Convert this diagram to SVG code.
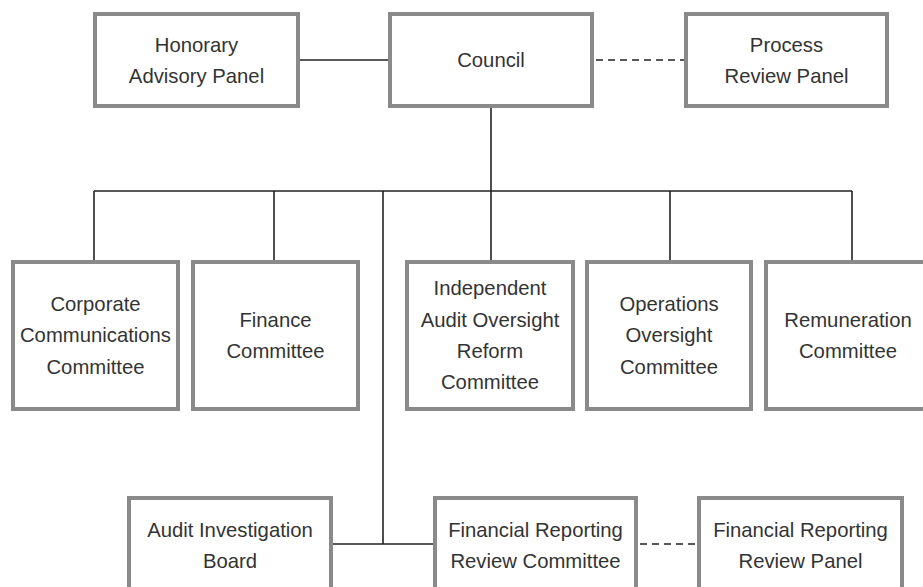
<svg xmlns="http://www.w3.org/2000/svg" width="923" height="587" viewBox="0 0 923 587">
<style>
.box{fill:#fff;stroke:#8a8a8b;stroke-width:4}
.t{font-family:"Liberation Sans",Arial,sans-serif;font-size:20.3px;fill:#333;text-anchor:middle}
.ln{fill:none;stroke:#222;stroke-width:1.6}
.dash{fill:none;stroke:#222;stroke-width:1.6;stroke-dasharray:7 5}
</style>
<rect width="923" height="587" fill="#fff"/>
<g id="connectors">
<line class="ln" x1="300" y1="60" x2="388" y2="60"/>
<line class="dash" x1="596" y1="60" x2="684" y2="60"/>
<line class="ln" x1="491" y1="108" x2="491" y2="191"/>
<line class="ln" x1="94" y1="191" x2="852" y2="191"/>
<line class="ln" x1="94" y1="191" x2="94" y2="260"/>
<line class="ln" x1="274" y1="191" x2="274" y2="260"/>
<line class="ln" x1="491" y1="191" x2="491" y2="260"/>
<line class="ln" x1="670" y1="191" x2="670" y2="260"/>
<line class="ln" x1="852" y1="191" x2="852" y2="260"/>
<line class="ln" x1="383" y1="191" x2="383" y2="544"/>
<line class="ln" x1="333" y1="544" x2="433" y2="544"/>
<line class="dash" x1="640" y1="544" x2="697" y2="544"/>
</g>
<g id="honorary">
<rect class="box" x="95" y="14" width="203" height="92"/>
<text class="t" x="196.5" y="52">Honorary</text>
<text class="t" x="196.5" y="83">Advisory Panel</text>
</g>
<g id="council">
<rect class="box" x="390" y="14" width="202" height="92"/>
<text class="t" x="491" y="67">Council</text>
</g>
<g id="process">
<rect class="box" x="686" y="14" width="201" height="92"/>
<text class="t" x="786.5" y="52">Process</text>
<text class="t" x="786.5" y="83">Review Panel</text>
</g>
<g id="corporate">
<rect class="box" x="13" y="262" width="165" height="147"/>
<text class="t" x="95.5" y="311">Corporate</text>
<text class="t" x="95.5" y="342">Communications</text>
<text class="t" x="95.5" y="374">Committee</text>
</g>
<g id="finance">
<rect class="box" x="193" y="262" width="165" height="147"/>
<text class="t" x="275.5" y="327">Finance</text>
<text class="t" x="275.5" y="358">Committee</text>
</g>
<g id="independent">
<rect class="box" x="407" y="262" width="166" height="147"/>
<text class="t" x="490" y="295">Independent</text>
<text class="t" x="490" y="327">Audit Oversight</text>
<text class="t" x="490" y="358">Reform</text>
<text class="t" x="490" y="389">Committee</text>
</g>
<g id="operations">
<rect class="box" x="587" y="262" width="164" height="147"/>
<text class="t" x="669" y="311">Operations</text>
<text class="t" x="669" y="342">Oversight</text>
<text class="t" x="669" y="374">Committee</text>
</g>
<g id="remuneration">
<rect class="box" x="766" y="262" width="165" height="147"/>
<text class="t" x="848" y="327">Remuneration</text>
<text class="t" x="848" y="358">Committee</text>
</g>
<g id="audit-investigation">
<rect class="box" x="129" y="498" width="202" height="92"/>
<text class="t" x="230" y="537">Audit Investigation</text>
<text class="t" x="230" y="568">Board</text>
</g>
<g id="frrc">
<rect class="box" x="435" y="498" width="201" height="92"/>
<text class="t" x="535.5" y="537">Financial Reporting</text>
<text class="t" x="535.5" y="568">Review Committee</text>
</g>
<g id="frrp">
<rect class="box" x="699" y="498" width="203" height="92"/>
<text class="t" x="800.5" y="537">Financial Reporting</text>
<text class="t" x="800.5" y="568">Review Panel</text>
</g>
</svg>
